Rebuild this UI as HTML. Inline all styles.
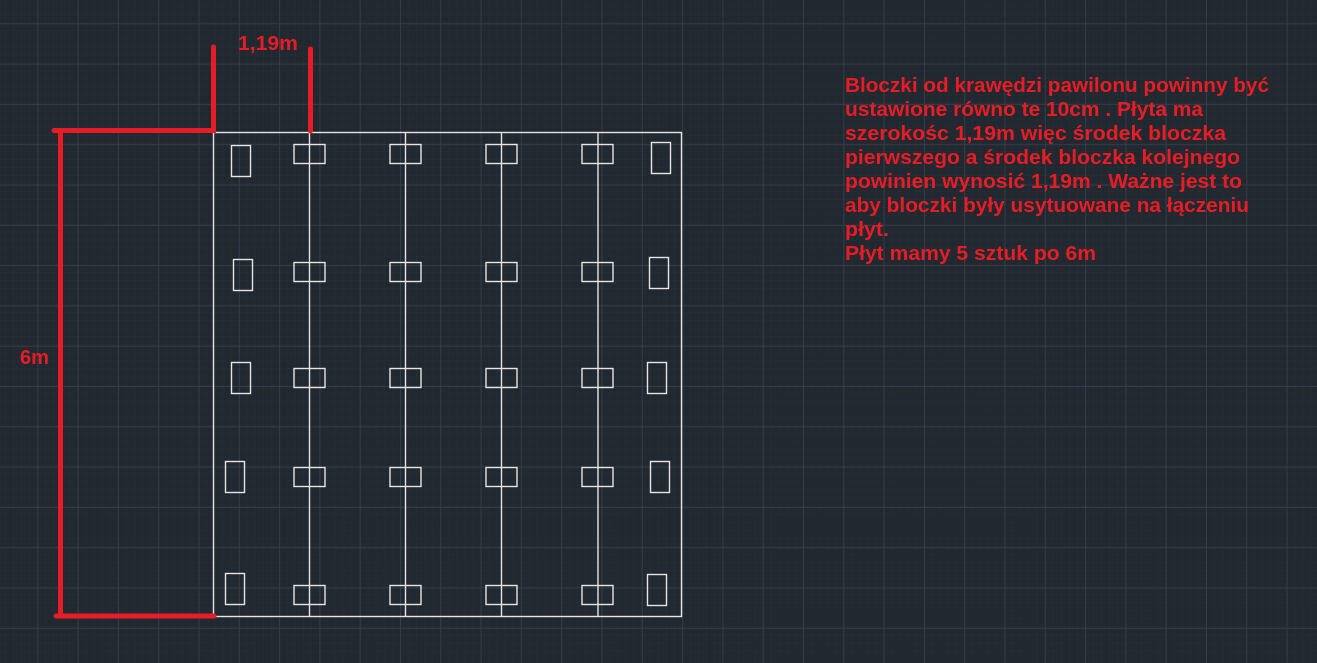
<!DOCTYPE html>
<html><head><meta charset="utf-8"><style>
html,body{margin:0;padding:0;background:#212830;}
svg{display:block}
text{font-family:"Liberation Sans",sans-serif;font-weight:bold;fill:#e81c24}
</style></head><body>
<svg width="1317" height="663" viewBox="0 0 1317 663" xmlns="http://www.w3.org/2000/svg">
<defs>
<pattern id="minor" x="-3" y="-2" width="8.06" height="8.06" patternUnits="userSpaceOnUse">
<path d="M0 0H8.06M0 0V8.06" stroke="#272e38" stroke-width="1" fill="none"/>
</pattern>
<pattern id="major" x="-3" y="-17" width="40.3" height="40.3" patternUnits="userSpaceOnUse">
<path d="M0 0.5H40.3M0.5 0V40.3" stroke="#343c48" stroke-width="1" fill="none"/>
</pattern>
</defs>
<rect width="1317" height="663" fill="#212830"/>
<rect width="1317" height="663" fill="url(#minor)"/>
<rect width="1317" height="663" fill="url(#major)"/>

<g stroke="#e6e6e6" stroke-width="1.4" fill="none">
<rect x="213.5" y="132.5" width="468" height="484"/>
<line x1="309.5" y1="132" x2="309.5" y2="616"/>
<line x1="405.5" y1="132" x2="405.5" y2="616"/>
<line x1="501.5" y1="132" x2="501.5" y2="616"/>
<line x1="598" y1="132" x2="598" y2="616"/>
<g>
<rect x="294" y="144.5" width="31" height="19"/><rect x="390" y="144.5" width="31" height="19"/><rect x="486" y="144.5" width="31" height="19"/><rect x="582" y="144.5" width="31" height="19"/>
<rect x="294" y="262.5" width="31" height="19"/><rect x="390" y="262.5" width="31" height="19"/><rect x="486" y="262.5" width="31" height="19"/><rect x="582" y="262.5" width="31" height="19"/>
<rect x="294" y="368.5" width="31" height="19"/><rect x="390" y="368.5" width="31" height="19"/><rect x="486" y="368.5" width="31" height="19"/><rect x="582" y="368.5" width="31" height="19"/>
<rect x="294" y="467.5" width="31" height="19"/><rect x="390" y="467.5" width="31" height="19"/><rect x="486" y="467.5" width="31" height="19"/><rect x="582" y="467.5" width="31" height="19"/>
<rect x="294" y="585.5" width="31" height="19"/><rect x="390" y="585.5" width="31" height="19"/><rect x="486" y="585.5" width="31" height="19"/><rect x="582" y="585.5" width="31" height="19"/>
</g>
<rect x="231.5" y="145.5" width="19" height="31"/>
<rect x="233.5" y="259.5" width="19" height="31"/>
<rect x="231.5" y="362.5" width="19" height="31"/>
<rect x="225.5" y="461.5" width="19" height="31"/>
<rect x="225.5" y="573.5" width="19" height="31"/>
<rect x="651.5" y="142.5" width="19" height="31"/>
<rect x="649.5" y="257.5" width="19" height="31"/>
<rect x="647.5" y="362.5" width="19" height="31"/>
<rect x="650.5" y="461.5" width="19" height="31"/>
<rect x="647.5" y="574.5" width="19" height="31"/>
</g>

<g stroke="#e81c24" stroke-width="5" stroke-linecap="round" fill="none">
<path d="M54 130.5H213.5V47"/>
<line x1="60.5" y1="131" x2="60.5" y2="614"/>
<line x1="56" y1="616" x2="214" y2="616"/>
<line x1="310.5" y1="49" x2="310.5" y2="131"/>
</g>

<text x="238" y="50" font-size="20" textLength="60" lengthAdjust="spacingAndGlyphs">1,19m</text>
<text x="20" y="364" font-size="20" textLength="29" lengthAdjust="spacingAndGlyphs">6m</text>

<g font-size="20">
<text x="845" y="92" textLength="424" lengthAdjust="spacingAndGlyphs">Bloczki od krawędzi pawilonu powinny być</text>
<text x="845" y="116" textLength="358" lengthAdjust="spacingAndGlyphs">ustawione równo te 10cm . Płyta ma</text>
<text x="845" y="140" textLength="381" lengthAdjust="spacingAndGlyphs">szerokośc 1,19m więc środek bloczka</text>
<text x="845" y="164" textLength="395" lengthAdjust="spacingAndGlyphs">pierwszego a środek bloczka kolejnego</text>
<text x="845" y="188" textLength="397" lengthAdjust="spacingAndGlyphs">powinien wynosić 1,19m . Ważne jest to</text>
<text x="845" y="212" textLength="404" lengthAdjust="spacingAndGlyphs">aby bloczki były usytuowane na łączeniu</text>
<text x="845" y="236" textLength="44" lengthAdjust="spacingAndGlyphs">płyt.</text>
<text x="845" y="260" textLength="251" lengthAdjust="spacingAndGlyphs">Płyt mamy 5 sztuk po 6m</text>
</g>
</svg>
</body></html>
